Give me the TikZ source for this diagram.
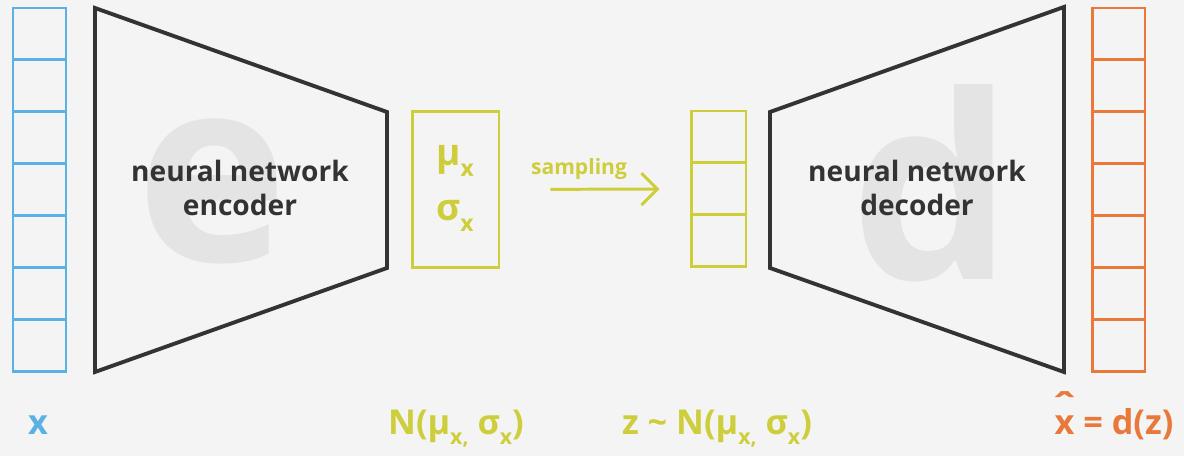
\documentclass[tikz,border=0pt]{standalone}
\usepackage{fontspec}
\setmainfont{Open Sans}
\usepackage{tikz}
\usetikzlibrary{arrows.meta, positioning, calc}
\definecolor{bgray}{RGB}{244, 244, 244}
\definecolor{inblue}{RGB}{90, 178, 228}
\definecolor{latyellow}{RGB}{206, 206, 60}
\definecolor{outorange}{RGB}{232, 121, 58}
\definecolor{netdark}{RGB}{51, 51, 51}
\definecolor{ghost}{RGB}{228, 228, 228}
\newcommand{\lowx}[1]{\raisebox{-0.28em}{\scalebox{0.62}{#1}}}
\newcommand{\xhatsym}{\ooalign{x\cr\hidewidth\raisebox{0.42em}{\scalebox{1.3}[1.1]{ˆ}}\hidewidth\cr}}

\begin{document}
\begin{tikzpicture}[
			x=0.02cm, y=0.02cm,
			cell/.style={rectangle, draw, line width=1.7pt, inner sep=0pt, minimum width=1.06cm, minimum height=1.04cm},
			net/.style={draw=netdark, line width=2.2pt, line join=miter},
			nettext/.style={font=\fontsize{16}{19}\selectfont\bfseries, text=netdark, align=center},
			bigletter/.style={font=\fontsize{146}{146}\selectfont\bfseries, text=ghost, anchor=base, inner sep=0pt},
			label/.style={font=\fontsize{19.5}{23}\selectfont\bfseries, anchor=base},
			arrow/.style={-{Straight Barb[length=3.2mm, width=6.4mm, line width=1.7pt]}, line width=1.7pt, draw=latyellow}
		]
		\useasboundingbox[fill=bgray] (0,0) rectangle (1184,456);
		
		% input and output columns
		\foreach \i/\yc in {1/422, 2/370, 3/318, 4/266, 5/214, 6/162, 7/110} {
			\node[cell, draw=inblue] (x\i) at (39.5,\yc) {};
			\node[cell, draw=outorange] (o\i) at (1118.5,\yc) {};
		}
		
		% encoder and decoder
		\node[bigletter] (ebig) at (212,194) {e};
		\node[bigletter] (dbig) at (932,176) {d};
		\draw[net] (95,448) -- (387,344) -- (387,188) -- (95,84) -- cycle;
		\draw[net] (770,344) -- (1064,449) -- (1064,84) -- (770,188) -- cycle;
		\node[nettext] (enc) at (240,268) {neural network\\encoder};
		\node[nettext] (dec) at (917,268) {neural network\\decoder};
		
		% latent
		\node[rectangle, draw=latyellow, line width=1.7pt, minimum width=1.74cm, minimum height=3.14cm] (musig) at (455.5,266.5) {};
		\node[font=\fontsize{21}{21}\selectfont\bfseries, text=latyellow] (mu) at (455,295) {μ\lowx{x}};
		\node[font=\fontsize{21}{21}\selectfont\bfseries, text=latyellow] (sig) at (455,240) {σ\lowx{x}};
		\foreach \i/\yc in {1/319, 2/267, 3/215} {
			\node[cell, draw=latyellow, minimum width=1.1cm] (z\i) at (718.5,\yc) {};
		}
		\draw[arrow, shorten <=1cm, shorten >=0.6cm] (musig) -- (z2);
		\node[font=\fontsize{12}{14}\selectfont\bfseries, text=latyellow] (samp) at (579,287) {sampling};
		
		% Labels below
		\node[label, text=inblue] (xlab) at (38,21) {x};
		\node[label, text=latyellow] (nlab) at (456,21) {N(μ\lowx{x,} σ\lowx{x})};
		\node[label, text=latyellow] (zlab) at (717,21) {z \textasciitilde{} N(μ\lowx{x,} σ\lowx{x})};
		\node[label, text=outorange] (xhat) at (1114,21) {\xhatsym{} = d(z)};
\end{tikzpicture}
\end{document}
